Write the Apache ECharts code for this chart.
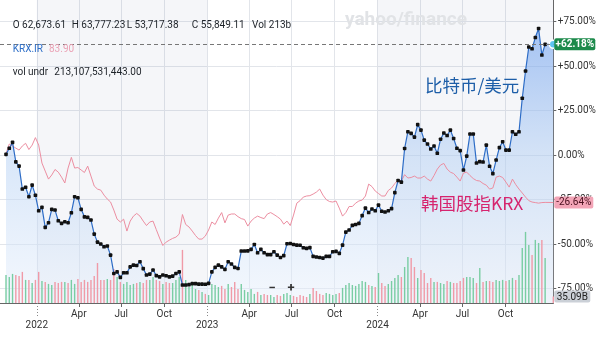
<!DOCTYPE html>
<html><head><meta charset="utf-8">
<script src="https://cdn.jsdelivr.net/npm/echarts@6/dist/echarts.min.js"></script>
<style>html,body{margin:0;padding:0;background:#fff}#c{width:600px;height:338px}</style>
</head><body><div id="c"></div>
<script>
// ---------- data (weekly, % change from first week) ----------
const START_DATE = '2021-10-27';
const btcPct = [
 0.4, 3.8, 7.1, -3.8, -6.2, -19.1, -18.1, -23.4, -16.9, -22.6,
 -31.3, -29.4, -40.6, -38.0, -30.5, -30.9, -36.9, -38.4, -37.5, -38.0,
 -32.4, -23.4, -24.0, -30.5, -34.7, -35.0, -36.5, -44.4, -48.9, -50.0,
 -51.5, -51.1, -56.2, -66.5, -65.6, -68.7, -66.1, -66.1, -62.8, -61.8,
 -62.0, -59.9, -63.8, -67.4, -66.9, -64.6, -67.7, -68.4, -67.4, -67.8,
 -68.4, -68.0, -66.5, -65.6, -73.0, -73.0, -72.8, -72.2, -72.2, -72.5,
 -72.5, -72.6, -72.1, -65.6, -63.1, -61.8, -62.8, -64.2, -59.9, -61.2,
 -63.1, -63.7, -53.9, -53.9, -53.8, -53.0, -50.2, -54.9, -53.0, -54.9,
 -55.9, -55.9, -54.3, -56.2, -57.5, -56.5, -49.8, -49.7, -50.2, -50.6,
 -50.7, -52.1, -52.4, -52.0, -56.9, -57.3, -57.5, -57.9, -56.9, -56.9,
 -54.3, -54.1, -55.2, -50.6, -43.3, -42.1, -39.5, -39.0, -38.4, -34.0,
 -29.8, -32.3, -30.3, -31.3, -28.1, -31.6, -32.0, -31.3, -30.1, -21.1,
 -14.3, -15.2, 3.7, 13.1, 12.2, 10.1, 17.1, 14.0, 8.4, 6.2,
 3.4, 5.1, 1.0, 8.9, 12.4, 11.0, 14.0, 9.3, 3.8, 2.5,
 -8.4, -0.6, 11.8, 11.8, -4.5, -3.7, -3.9, 5.6, -6.3, -10.4,
 -2.8, 4.2, 7.5, 2.8, 2.8, 13.1, 11.7, 13.1, 31.9, 47.2,
 60.7, 59.7, 66.0, 71.1, 56.2, 62.2
];
const krxPct = [
 0.8, 6.2, 5.1, 3.9, 2.8, 5.1, 6.6, 3.1, 5.6, 9.8,
 5.6, -4.5, -9.0, -13.5, -11.2, -8.1, -9.6, -12.4, -15.7, -7.3,
 -1.3, -7.3, -7.0, -8.4, -9.8, -6.2, -11.8, -17.4, -19.1, -19.7,
 -22.5, -24.7, -26.4, -30.9, -36.0, -37.6, -36.0, -42.7, -37.1, -34.3,
 -32.8, -34.3, -37.1, -39.6, -37.6, -37.1, -41.9, -46.6, -50.8, -48.9,
 -47.8, -46.8, -46.1, -44.4, -33.4, -39.0, -40.4, -42.7, -45.2, -47.2,
 -47.2, -45.5, -42.1, -37.6, -39.0, -35.4, -32.3, -38.1, -33.7, -33.1,
 -33.1, -34.6, -35.7, -36.2, -39.9, -37.1, -35.4, -34.3, -35.1, -35.7,
 -33.1, -32.3, -33.4, -34.6, -36.0, -38.8, -37.1, -39.6, -33.7, -27.0,
 -25.6, -23.6, -23.0, -22.8, -21.9, -20.8, -19.1, -22.5, -25.0, -26.1,
 -26.4, -25.8, -29.8, -34.3, -32.3, -28.9, -28.9, -27.0, -25.8, -25.3,
 -23.0, -16.3, -17.7, -20.2, -21.6, -23.0, -23.0, -19.9, -18.5, -16.0,
 -14.0, -14.6, -11.0, -12.9, -12.6, -11.8, -12.9, -12.9, -11.8, -13.5,
 -14.6, -11.5, -7.9, -5.6, -4.7, -7.9, -9.6, -10.4, -12.4, -14.6,
 -10.1, -9.6, -11.5, -13.2, -14.3, -14.6, -16.0, -16.9, -19.1, -18.5,
 -12.4, -11.8, -12.6, -15.2, -18.0, -13.5, -16.6, -19.1, -21.3, -23.6,
 -25.6, -26.4, -26.7, -27.0, -26.7, -26.6
];
// weekly volume, billions
const volB = [
 154,143,160,154,149,171,127,127,110,127, 171,121,116,105,99,116,110,116,116,110,
 127,105,132,116,127,116,127,149,220,127, 127,132,127,187,143,116,105,116,99,105,
 110,116,
 110,127,127,143,127,121,105,116,110,110,127,143,
 292,
 127,88,99,77,72,61,50,44,105,99, 88,94,77,105,88,116,77,105,72,61, 77,50,61,44,50,44,44,
 33,44,39,50,55,44,39,33,44,39,33,50,
 83,66,50,44,55,50,44,50,55,83,99,
 110,99,94,105,121,116,99,94,88,
 165,110,94,105,121,138,154,143,
 198,253,248,198,138,182,165,110,138,116, 116,110,105,121,116,110,110,121,138,143,
 143,138,110,193,116,121,121,116,127,121, 127,121,127,138,127,154,303,391,319,264,
 347,330,347,248
];
const BTC_LAST = 62.18, KRX_LAST = -26.64, VOL_LAST = 35.09;
const yTicks = [-75, -50, -25, 0, 25, 50, 75];
const quarterTicks = ['2022-04-01','2022-07-01','2022-10-01','2023-04-01','2023-07-01','2023-10-01','2024-04-01','2024-07-01','2024-10-01'];
const yearTicks = ['2022-01-01','2023-01-01','2024-01-01'];
const MONTHS = ['Jan','Feb','Mar','Apr','May','Jun','Jul','Aug','Sep','Oct','Nov','Dec'];

// ---------- build ----------
const WEEK = 7 * 24 * 3600 * 1000;
const toTs = s => Date.parse(s + 'T00:00:00Z');
const START = toTs(START_DATE);
const X_MIN = START - 1.84 * WEEK;
const X_MAX = START + 167.5 * WEEK;
const dates = btcPct.map((_, i) => START + i * WEEK);
const qTs = quarterTicks.map(toTs), yTs = yearTicks.map(toTs);
const allLabelTs = qTs.concat(yTs).sort((a, b) => a - b);

const btcPts = btcPct.map((v, i) => [dates[i], v]);
const btcLine = btcPts.slice();
btcLine.push({ value: [X_MAX, BTC_LAST], symbol: 'circle', symbolSize: 8,
  itemStyle: { color: '#5cc4f2', borderColor: '#ffffff', borderWidth: 1.5 } });
const btcArea = btcPts.concat([[X_MAX, BTC_LAST]]);
const krxLine = krxPct.map((v, i) => [dates[i], v]).concat([[X_MAX, KRX_LAST]]);
const volAll = volB.concat([VOL_LAST]);
const btcAll = btcPct.concat([BTC_LAST]);
const volData = volAll.map((v, i) => ({
  value: [i < dates.length ? dates[i] : X_MAX, v],
  itemStyle: { color: (i > 0 && btcAll[i] < btcAll[i - 1]) ? '#f09aa7' : '#79cda3' }
}));

const FONT = 'Roboto, "Noto Sans", sans-serif';
const GRID_COLOR = '#e2e5ea';
const chart = echarts.init(document.getElementById('c'), null, { renderer: 'canvas' });

function dateLabel(v) {
  const d = new Date(v); const m = d.getUTCMonth();
  return m === 0 ? '\n' + d.getUTCFullYear() : MONTHS[m];
}

const option = {
  animation: false,
  backgroundColor: '#ffffff',
  textStyle: { fontFamily: FONT },
  grid: [
    { left: 0, right: 46.7, top: 0, bottom: 35, outerBoundsMode: 'none', containLabel: false },
    { left: 0, right: 46.7, top: 223, bottom: 35, outerBoundsMode: 'none', containLabel: false }
  ],
  xAxis: [
    { type: 'value', gridIndex: 0, position: 'bottom', min: X_MIN, max: X_MAX, scale: true,
      axisLine: { show: true, onZero: false, lineStyle: { color: '#666', width: 1 } },
      axisTick: { show: true, length: 4, customValues: qTs, lineStyle: { color: '#666' } },
      axisLabel: { customValues: allLabelTs, color: '#333', fontSize: 10, margin: 6, lineHeight: 11,
        fontFamily: FONT, formatter: dateLabel },
      splitLine: { show: true, lineStyle: { color: GRID_COLOR, width: 1 } } },
    { type: 'value', gridIndex: 0, position: 'bottom', min: X_MIN, max: X_MAX, scale: true,
      axisLine: { show: false, onZero: false },
      axisTick: { show: true, length: 15, customValues: yTs, lineStyle: { color: '#888', type: [1, 2] } },
      axisLabel: { show: false },
      splitLine: { show: true, lineStyle: { color: GRID_COLOR, width: 1 } } },
    { type: 'value', gridIndex: 1, min: X_MIN, max: X_MAX, scale: true, show: false,
      axisLine: { onZero: false } }
  ],
  yAxis: [
    { type: 'value', gridIndex: 0, position: 'right', min: -83.1, max: 87.1,
      axisLine: { show: true, onZero: false, lineStyle: { color: '#666', width: 1 } },
      axisTick: { show: true, length: 3, customValues: yTicks, lineStyle: { color: '#666' } },
      axisLabel: { customValues: yTicks, color: '#333', fontSize: 10, margin: 4.5, fontFamily: FONT,
        formatter: v => (v > 0 ? '+' : '') + v.toFixed(2) + '%' },
      splitLine: { show: true, lineStyle: { color: GRID_COLOR, width: 1 } } },
    { type: 'value', gridIndex: 1, min: 0, max: 440, show: false }
  ],
  series: [
    { name: 'bands', type: 'line', xAxisIndex: 0, yAxisIndex: 0, data: [], z: 0,
      markArea: { silent: true, itemStyle: { color: 'rgba(100,120,160,0.065)' },
        data: [[{ xAxis: yTs[0] }, { xAxis: yTs[1] }], [{ xAxis: yTs[2] }, { xAxis: X_MAX }]] } },
    { name: 'btcArea', type: 'line', xAxisIndex: 0, yAxisIndex: 0, data: btcArea, z: 1,
      showSymbol: false, symbol: 'none', lineStyle: { width: 0, opacity: 0 },
      areaStyle: { origin: 'start', color: new echarts.graphic.LinearGradient(0, 0, 0, 1, [
        { offset: 0, color: 'rgba(110,160,238,0.85)' },
        { offset: 0.45, color: 'rgba(180,208,244,0.75)' },
        { offset: 1, color: 'rgba(232,240,251,0.7)' }]) } },
    { name: 'vol', type: 'bar', xAxisIndex: 2, yAxisIndex: 1, data: volData, barWidth: 1.4, z: 2 },
    { name: 'KRX', type: 'line', xAxisIndex: 0, yAxisIndex: 0, data: krxLine, z: 3,
      showSymbol: false, symbol: 'none', lineStyle: { color: '#ec8ea1', width: 1 } },
    { name: 'BTC', type: 'line', xAxisIndex: 0, yAxisIndex: 0, data: btcLine, z: 4,
      symbol: 'roundRect', symbolSize: 3.6, showAllSymbol: true,
      itemStyle: { color: '#111111' },
      lineStyle: { color: '#2d6cc6', width: 1.2 },
      markLine: { silent: true, symbol: 'none', label: { show: false },
        lineStyle: { type: [4, 3], color: '#777', width: 1 },
        data: [{ yAxis: BTC_LAST }] } }
  ]
};
chart.setOption(option);

const xR = chart.convertToPixel({ xAxisIndex: 0 }, X_MAX);
const yB = chart.convertToPixel({ yAxisIndex: 0 }, BTC_LAST);
const yK = chart.convertToPixel({ yAxisIndex: 0 }, KRX_LAST);
const yV = chart.convertToPixel({ yAxisIndex: 1 }, VOL_LAST);

function txt(x, y, text, font, fill, align) {
  return { type: 'text', z: 100, silent: true,
    style: { x: x, y: y, text: text, font: font, fill: fill,
      textAlign: align || 'left', align: align || 'left',
      textVerticalAlign: 'middle', verticalAlign: 'middle' } };
}
function tag(y, w, bg, text, fg, bold) {
  return [
    { type: 'rect', z: 100, silent: true, shape: { x: xR + 1, y: y - 6, width: w, height: 12, r: 2 }, style: { fill: bg } },
    txt(xR + 1 + w / 2, y + 0.5, text, (bold ? 'bold ' : '') + '10px ' + FONT, fg, 'center')
  ];
}
const F10 = '10px ' + FONT;
const g = [
  txt(345, 20, 'yahoo/finance', 'bold 19px ' + FONT, '#e1e3e6'),
  txt(12.7, 25, 'O 62,673.61', F10, '#1d2228'),
  txt(71.7, 25, 'H 63,777.23', F10, '#1d2228'),
  txt(126.7, 25, 'L 53,717.38', F10, '#1d2228'),
  txt(191.7, 25, 'C 55,849.11', F10, '#1d2228'),
  txt(252, 25, 'Vol 213b', F10, '#1d2228'),
  txt(12.7, 49.5, 'KRX.IR', F10, '#2e6fc8'),
  txt(49, 49.5, '83.90', F10, '#eba3b6'),
  txt(12.7, 72.5, 'vol undr', F10, '#1d2228'),
  txt(54.3, 72.5, '213,107,531,443.00', F10, '#1d2228'),
  txt(425, 85, '比特币/美元', '17.5px "Noto Sans CJK SC", sans-serif', '#1d5ea8'),
  txt(421, 203.5, '韩国股指KRX', '17.5px "Noto Sans CJK SC", sans-serif', '#d6246e'),
  txt(268.5, 289, '−', 'bold 13px ' + FONT, '#333'),
  txt(287.5, 289, '+', 'bold 13px ' + FONT, '#333')
].concat(tag(yB, 41, '#1c8a4b', '+62.18%', '#ffffff', true))
 .concat(tag(yK, 39, '#f3a5b7', '-26.64%', '#4a0f1e', false))
 .concat(tag(yV, 36, '#cbd0d7', '35.09B', '#222222', false));
chart.setOption({ graphic: g });
</script></body></html>
